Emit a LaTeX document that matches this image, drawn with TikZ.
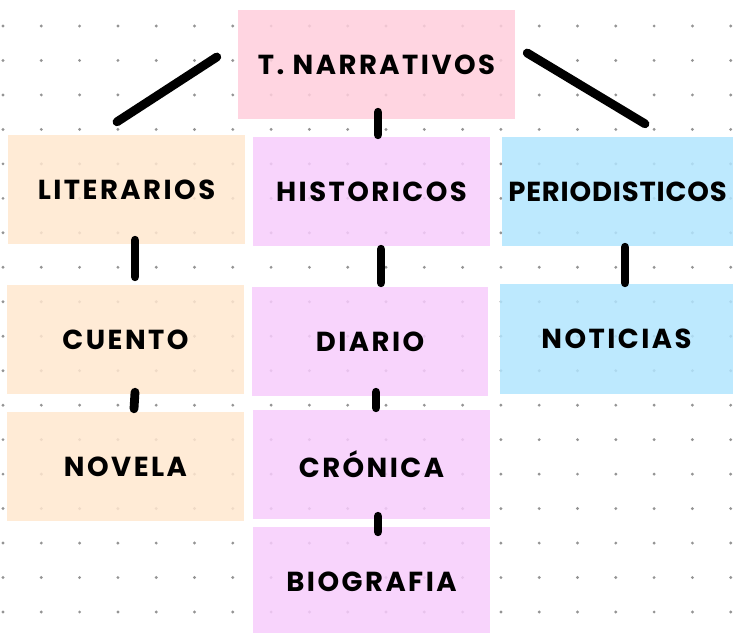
\documentclass[tikz,border=0pt]{standalone}
\usepackage{fontspec}
\setmainfont{Poppins}[LetterSpace=9]
\definecolor{NP}{RGB}{255,206,220}
\definecolor{LC}{RGB}{255,231,207}
\definecolor{HV}{RGB}{247,204,252}
\definecolor{PB}{RGB}{178,229,254}

\begin{document}
\begin{tikzpicture}[x=1pt, y=-1pt,
    card/.style={minimum width=237pt, minimum height=109pt, inner sep=0pt,
                 fill opacity=0.85, text opacity=1,
                 font=\fontsize{27.5}{27.5}\selectfont\bfseries},
    link/.style={line width=8.8pt, line cap=round}]
      \useasboundingbox (0,0) rectangle (733,632);
      % dot grid
      \foreach \i in {0,...,19}
        \foreach \j in {0,...,17}
          \fill[black!42] (3+38.3*\i, 26+34.47*\j) circle[radius=1.6pt];
      % cards
      \node[card, fill=NP, minimum width=277pt] (narr) at (376.5, 64.5) {T. NARRATIVOS};
      \node[card, fill=LC] (lit)  at (126.5, 189.5) {LITERARIOS};
      \node[card, fill=HV] (hist) at (371.5, 191.5) {HISTORICOS};
      \node[card, fill=PB, minimum width=231pt] (peri) at (617.5, 191.5) {\addfontfeatures{LetterSpace=3}PERIODISTICOS};
      \node[card, fill=LC] (cuento) at (125.5, 339.5) {CUENTO};
      \node[card, fill=HV, minimum width=236pt] (diario) at (370, 341.5) {DIARIO};
      \node[card, fill=PB, minimum width=233pt, minimum height=110pt] (noticias) at (616.5, 339) {NOTICIAS};
      \node[card, fill=LC] (novela) at (125.5, 466.5) {NOVELA};
      \node[card, fill=HV] (cronica) at (371.5, 464.5) {CRÓNICA};
      \node[card, fill=HV] (bio) at (371.5, 581.5) {BIOGRAFIA};
      % links
      \draw[link] ([shift={(-21,-7.5)}]narr.west) -- ([shift={(-9.5,-13)}]lit.north);
      \draw[link] ([shift={(12,-11.5)}]narr.east) -- ([shift={(27.5,-13)}]peri.north);
      \draw[link] ([shift={(1.5,-7)}]narr.south) -- ([shift={(6.5,-2)}]hist.north);
      \draw[link] ([shift={(8.5,-4)}]lit.south) -- ([shift={(9.5,-8)}]cuento.north);
      \draw[link] ([shift={(9.5,-2)}]cuento.south) -- ([shift={(8.5,-3)}]novela.north);
      \draw[link] ([shift={(9.5,3)}]hist.south) -- ([shift={(11,-4)}]diario.north);
      \draw[link] ([shift={(7.5,1)}]peri.south) -- ([shift={(8.5,-1)}]noticias.north);
      \draw[link] ([shift={(6,-4)}]diario.south) -- ([shift={(4.5,-2)}]cronica.north);
      \draw[link] ([shift={(6.5,-3)}]cronica.south) -- ([shift={(6.5,5)}]bio.north);
\end{tikzpicture}
\end{document}
